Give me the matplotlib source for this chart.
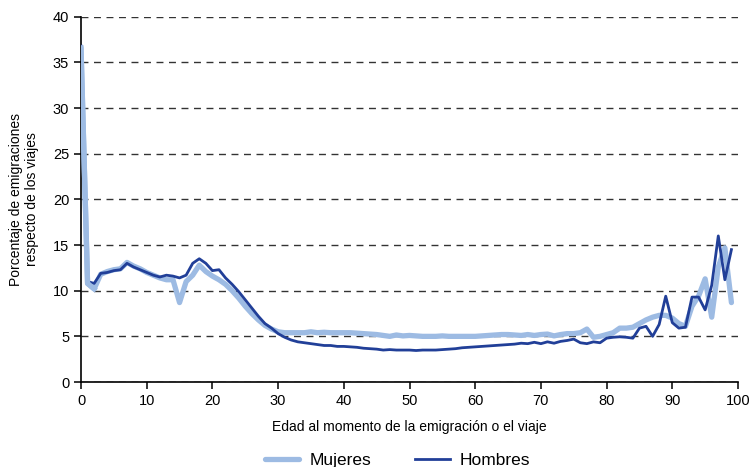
import numpy as np
import matplotlib
matplotlib.use("Agg")
import matplotlib.pyplot as plt

plt.rcParams['font.family'] = ['Liberation Sans', 'DejaVu Sans']

# edad al momento de la emigracion / viaje
ages = list(range(0, 100))

mujeres = [
    36.6, 10.8, 10.2, 11.8, 12.1, 12.3, 12.4, 13.1, 12.7, 12.4,
    12.0, 11.7, 11.4, 11.2, 11.2, 8.7, 11.0, 11.7, 12.8, 12.1,
    11.6, 11.2, 10.7, 10.0, 9.2, 8.3, 7.5, 6.8, 6.2, 5.8,
    5.5, 5.4, 5.4, 5.4, 5.4, 5.5, 5.4, 5.45, 5.4, 5.4,
    5.4, 5.4, 5.35, 5.3, 5.25, 5.2, 5.1, 5.0, 5.15, 5.05,
    5.1, 5.05, 5.0, 5.0, 5.0, 5.05, 5.0, 5.0, 5.0, 5.0,
    5.0, 5.05, 5.1, 5.15, 5.2, 5.2, 5.15, 5.1, 5.2, 5.1,
    5.2, 5.25, 5.05, 5.2, 5.3, 5.3, 5.4, 5.8, 4.9, 5.0,
    5.2, 5.4, 5.9, 5.9, 6.0, 6.4, 6.8, 7.1, 7.3, 7.3,
    7.0, 6.4, 6.1, 8.3, 9.4, 11.3, 7.1, 12.6, 14.7, 8.7,
]

hombres = [
    36.8, 11.0, 10.8, 11.9, 12.0, 12.2, 12.3, 13.0, 12.6, 12.3,
    12.0, 11.7, 11.5, 11.7, 11.6, 11.4, 11.7, 13.0, 13.5, 13.0,
    12.2, 12.3, 11.4, 10.7, 9.9, 9.0, 8.1, 7.2, 6.4, 5.9,
    5.3, 4.9, 4.6, 4.4, 4.3, 4.2, 4.1, 4.0, 4.0, 3.9,
    3.9, 3.85, 3.8, 3.7, 3.65, 3.6, 3.5, 3.55, 3.5, 3.5,
    3.5, 3.45, 3.5, 3.5, 3.5, 3.55, 3.6, 3.65, 3.75, 3.8,
    3.85, 3.9, 3.95, 4.0, 4.05, 4.1, 4.15, 4.25, 4.2, 4.35,
    4.2, 4.4, 4.25, 4.45, 4.55, 4.7, 4.3, 4.2, 4.4, 4.3,
    4.8, 4.9, 4.95, 4.9, 4.8, 5.9, 6.1, 5.0, 6.3, 9.4,
    6.5, 5.9, 6.0, 9.3, 9.3, 7.9, 10.6, 16.0, 11.2, 14.5,
]

color_muj = "#9dbbe3"
color_hom = "#213f98"

fig = plt.figure(figsize=(7.5, 4.67), dpi=100)
ax = fig.add_axes([0.108, 0.182, 0.876, 0.782])

ax.plot(ages, mujeres, color=color_muj, lw=3.8, solid_joinstyle='round',
        solid_capstyle='round', label="Mujeres", zorder=3)
ax.plot(ages, hombres, color=color_hom, lw=2.0, solid_joinstyle='round',
        label="Hombres", zorder=4)
# light line over dark one at the start like in the original
ax.plot(ages[:3], mujeres[:3], color=color_muj, lw=3.8, zorder=5)

ax.set_xlim(0, 100)
ax.set_ylim(0, 40)
ax.set_xticks(range(0, 101, 10))
ax.set_yticks(range(0, 41, 5))
ax.yaxis.grid(True, linestyle=(0, (5, 4)), color="#333333", lw=1.0)
ax.set_axisbelow(True)

for s in ["top", "right"]:
    ax.spines[s].set_visible(False)
for s in ["left", "bottom"]:
    ax.spines[s].set_color("black")
    ax.spines[s].set_linewidth(1.2)

ax.tick_params(axis='both', direction='out', length=5, width=1.1,
               labelsize=10.5, colors='black')

ax.set_xlabel("Edad al momento de la emigración o el viaje", fontsize=10, labelpad=9)
ax.set_ylabel("Porcentaje de emigraciones\nrespecto de los viajes", fontsize=10,
              labelpad=10, linespacing=1.2)

fig.legend(loc="lower center", ncol=2, frameon=False, fontsize=12.5,
           bbox_to_anchor=(0.53, -0.035), handlelength=2.0, columnspacing=2.5,
           handletextpad=0.6)

fig.savefig("out.png", dpi=100)
